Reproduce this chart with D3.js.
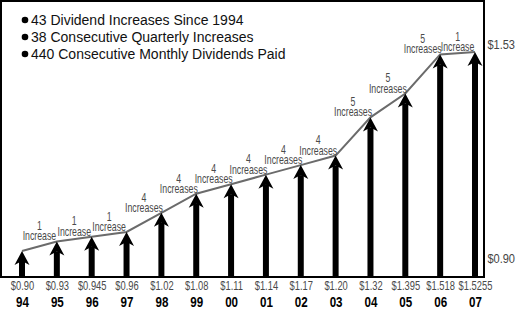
<!DOCTYPE html>
<meta charset="utf-8">

<style>
  body { margin: 0; background: #fff; }
  svg { display: block; font-family: "Liberation Sans", Arial, sans-serif; }
  .frame { fill: none; stroke: #000; stroke-width: 2; }
  .trend { fill: none; stroke: #6b6b6b; stroke-width: 2; }
  .arrows path { fill: #000; }
  .notes text { fill: #4a4a4a; font-size: 12px; text-anchor: middle; }
  .legend text { fill: #111; font-size: 14px; }
  .vals text { fill: #4a4a4a; font-size: 12px; }
  .years text { fill: #000; font-size: 14.5px; font-weight: bold; }
  .side text { fill: #444; font-size: 13px; }
</style>

<svg width="517" height="323"></svg>

<script src="https://d3js.org/d3.v7.min.js"></script>
<script>
// ====================================================================
const years = ["94", "95", "96", "97", "98", "99", "00", "01", "02", "03", "04", "05", "06", "07"]
const dividends = [0.90, 0.93, 0.945, 0.96, 1.02, 1.08, 1.11, 1.14, 1.17, 1.20, 1.32, 1.395, 1.518, 1.5255]
const valueLabels = ["$0.90", "$0.93", "$0.945", "$0.96", "$1.02", "$1.08", "$1.11", "$1.14",
                     "$1.17", "$1.20", "$1.32", "$1.395", "$1.518", "$1.5255"]
// increases between one year and the next
const increases = [1, 1, 1, 4, 4, 4, 4, 4, 4, 5, 5, 5, 1]
const sideTicks = [0.90, 1.53]
const legendItems = [
    "43 Dividend Increases Since 1994",
    "38 Consecutive Quarterly Increases",
    "440 Consecutive Monthly Dividends Paid"
]

// ====================================================================
const svg = d3.select("svg")
const plotLeft = 1, plotTop = 1, plotRight = 484, plotBottom = 277
const narrow = "scale(0.78,1)"   // squeeze text to a condensed look

const x = d3.scalePoint().domain(years).range([22, 475])
const y = d3.scaleLinear().domain([0.90, 1.5255]).range([251, 52])

const pts = years.map((yr, i) => ({ yr, v: dividends[i] }))

//frame round the plot
svg.append("rect")
    .attr("class", "frame")
    .attr("x", plotLeft).attr("y", plotTop)
    .attr("width", plotRight - plotLeft).attr("height", plotBottom - plotTop)

//grey line joining the arrow tips
svg.append("path")
    .attr("class", "trend")
    .attr("d", d3.line().x(d => x(d.yr)).y(d => y(d.v))(pts))

//arrows up from the baseline
const head = "M0,0 L7.5,14 L0,10 L-7.5,14 Z"
const arrow = svg.append("g")
    .attr("class", "arrows")
    .selectAll("g")
    .data(pts)
    .join("g")
    .attr("transform", d => `translate(${x(d.yr)},${y(d.v)})`)

arrow.append("path").attr("d", head)
arrow.append("path").attr("d", d => `M-3,10 H3 V${plotBottom - y(d.v)} H-3 Z`)

//"n Increase(s)" notes over each segment
const notes = svg.append("g")
    .attr("class", "notes")
    .selectAll("text")
    .data(increases)
    .join("text")
    .attr("transform", (n, i) => {
        const cx = (x(years[i]) + x(years[i + 1])) / 2
        return `translate(${cx},${y(dividends[i + 1]) - 1}) scale(0.73,1)`
    })

notes.append("tspan").attr("x", 0).attr("dy", "-0.85em").text(n => n)
notes.append("tspan").attr("x", 0).attr("dy", "0.85em").text(n => n === 1 ? "Increase" : "Increases")

//dividend amounts and years under the baseline
svg.append("g")
    .attr("class", "vals")
    .attr("transform", `translate(0,${plotBottom})`)
    .call(d3.axisBottom(x).tickSize(0).tickPadding(4).tickFormat((d, i) => valueLabels[i]))
    .call(g => g.select(".domain").remove())
    .selectAll("text")
    .attr("font-family", null).attr("font-size", null).attr("fill", null)
    .attr("transform", narrow)

svg.append("g")
    .attr("class", "years")
    .attr("transform", `translate(0,${plotBottom + 20})`)
    .call(d3.axisBottom(x).tickSize(0).tickPadding(0))
    .call(g => g.select(".domain").remove())
    .selectAll("text")
    .attr("font-family", null).attr("font-size", null).attr("fill", null)
    .attr("transform", "scale(0.8,1)")

//start and end amounts beside the frame
svg.append("g")
    .attr("class", "side")
    .attr("transform", `translate(${plotRight},0)`)
    .call(d3.axisRight(y).tickValues(sideTicks).tickSize(0).tickPadding(4).tickFormat(d3.format("$.2f")))
    .call(g => g.select(".domain").remove())
    .selectAll("text")
    .attr("font-family", null).attr("font-size", null).attr("fill", null)
    .attr("transform", "scale(0.85,1)")
    .attr("dy", d => d < 1 ? "0.9em" : "-0.15em")

//bulleted notes in the top corner
const legend = svg.append("g")
    .attr("class", "legend")
    .selectAll("g")
    .data(legendItems)
    .join("g")
    .attr("transform", (d, i) => `translate(25,${20 + i * 17})`)

legend.append("circle").attr("r", 3.3).attr("fill", "#000")
legend.append("text").attr("x", 6).attr("dy", "0.36em").text(d => d)
</script>
